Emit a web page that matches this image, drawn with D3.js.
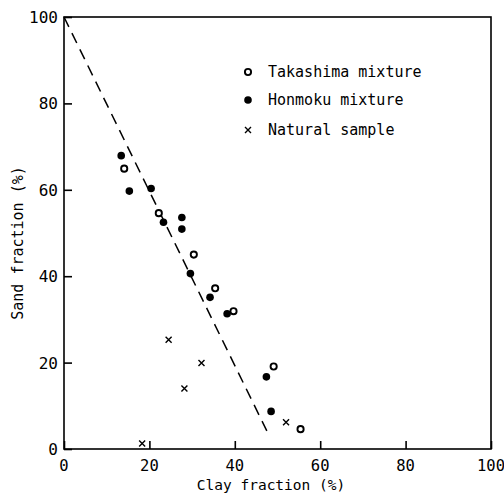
<!DOCTYPE html>
<html>
<head>
<meta charset="utf-8">
<script src="https://cdn.jsdelivr.net/npm/d3@7"></script>
<style>
  html, body { margin: 0; padding: 0; background: #fff; }
  svg text { font-family: "DejaVu Sans Mono", "Liberation Mono", monospace; fill: #000; }
</style>
</head>
<body>
<svg id="chart" width="504" height="494"></svg>
<script>
// Clay / sand fractions (%) of each sample group
const takashimaClay = [14.1, 22.2, 30.4, 35.4, 39.7, 49.1, 55.4];
const takashimaSand = [64.9, 54.6, 45.0, 37.2, 31.9, 19.1, 4.6];

const honmokuClay = [13.4, 15.3, 20.4, 23.3, 27.6, 27.6, 29.6, 34.2, 38.2, 47.4, 48.5];
const honmokuSand = [67.9, 59.7, 60.3, 52.5, 53.6, 50.9, 40.6, 35.1, 31.3, 16.7, 8.7];

const naturalClay = [24.5, 32.2, 28.2, 52.0, 18.3];
const naturalSand = [25.3, 19.9, 14.0, 6.2, 1.3];

// Dashed reference line (clay, sand)
const lineClay = [0, 47.5];
const lineSand = [100, 4.2];

const tickValues = [0, 20, 40, 60, 80, 100];
const legendLabels = ["Takashima mixture", "Honmoku mixture", "Natural sample"];

const margin = { left: 64, right: 13, top: 17, bottom: 45 };
const W = 504, H = 494;
const svg = d3.select("#chart");

const x = d3.scaleLinear().domain([0, 100]).range([margin.left, W - margin.right]);
const y = d3.scaleLinear().domain([0, 100]).range([H - margin.bottom, margin.top]);

// Frame
svg.append("rect")
  .attr("x", x(0)).attr("y", y(100))
  .attr("width", x(100) - x(0)).attr("height", y(0) - y(100))
  .attr("fill", "none").attr("stroke", "#000").attr("stroke-width", 1.6);

// Inward ticks on bottom and left
const xAxis = d3.axisTop(x).tickValues(tickValues).tickSize(8).tickFormat("");
svg.append("g").attr("transform", `translate(0,${y(0)})`).call(xAxis)
  .call(g => g.select(".domain").remove())
  .call(g => g.selectAll("line").attr("stroke-width", 1.6));
const yAxis = d3.axisRight(y).tickValues(tickValues).tickSize(8).tickFormat("");
svg.append("g").attr("transform", `translate(${x(0)},0)`).call(yAxis)
  .call(g => g.select(".domain").remove())
  .call(g => g.selectAll("line").attr("stroke-width", 1.6));

// Tick labels
svg.append("g").selectAll("text").data(tickValues).join("text")
  .attr("x", d => x(d)).attr("y", y(0) + 22)
  .attr("text-anchor", "middle").attr("font-size", 15.5)
  .text(d => d);
svg.append("g").selectAll("text").data(tickValues).join("text")
  .attr("x", x(0) - 6).attr("y", d => y(d) + 6)
  .attr("text-anchor", "end").attr("font-size", 16)
  .text(d => d);

// Axis titles
svg.append("text")
  .attr("x", 271).attr("y", 490)
  .attr("text-anchor", "middle").attr("font-size", 14.5)
  .text("Clay fraction (%)");
svg.append("text")
  .attr("transform", `translate(23,${243}) rotate(-90)`)
  .attr("text-anchor", "middle").attr("font-size", 15)
  .text("Sand fraction (%)");

// Dashed line
svg.append("line")
  .attr("x1", x(lineClay[0])).attr("y1", y(lineSand[0]))
  .attr("x2", x(lineClay[1])).attr("y2", y(lineSand[1]))
  .attr("stroke", "#000").attr("stroke-width", 1.5)
  .attr("stroke-dasharray", "11,7");

// Marker drawers
function openCircle(g, cx, cy) {
  g.append("circle").attr("cx", cx).attr("cy", cy).attr("r", 3.1)
    .attr("fill", "#fff").attr("stroke", "#000").attr("stroke-width", 1.9);
}
function filledCircle(g, cx, cy) {
  g.append("circle").attr("cx", cx).attr("cy", cy).attr("r", 3.8).attr("fill", "#000");
}
function cross(g, cx, cy) {
  const s = 3;
  g.append("path")
    .attr("d", `M${cx - s},${cy - s}L${cx + s},${cy + s}M${cx - s},${cy + s}L${cx + s},${cy - s}`)
    .attr("stroke", "#000").attr("stroke-width", 1.4).attr("fill", "none");
}

const pts = svg.append("g");
takashimaClay.forEach((c, i) => openCircle(pts, x(c), y(takashimaSand[i])));
honmokuClay.forEach((c, i) => filledCircle(pts, x(c), y(honmokuSand[i])));
naturalClay.forEach((c, i) => cross(pts, x(c), y(naturalSand[i])));

// Legend
const legend = svg.append("g");
const legendY = [72, 100, 130];
const drawers = [openCircle, filledCircle, cross];
legendLabels.forEach((label, i) => {
  drawers[i](legend, 248, legendY[i]);
  legend.append("text").attr("x", 268).attr("y", legendY[i] + 5)
    .attr("font-size", 15).text(label);
});
</script>
</body>
</html>
